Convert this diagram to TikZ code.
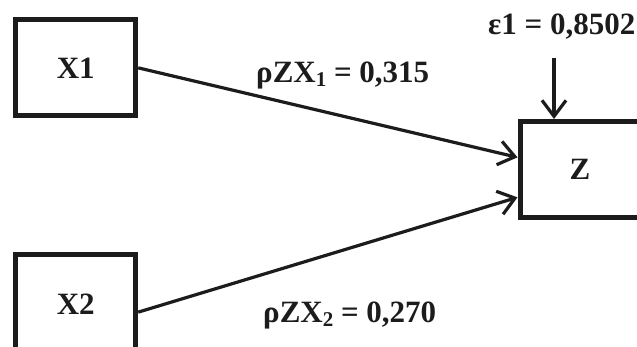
\documentclass[tikz,border=0pt]{standalone}
\usepackage{fontspec}
\setmainfont{Liberation Serif}
\usetikzlibrary{arrows.meta}
\definecolor{ink}{RGB}{28,28,28}
\tikzset{
  varbox/.style={draw=ink, line width=5pt, rectangle, minimum width=120pt, minimum height=95.7pt, inner sep=0pt, text=ink, font=\fontsize{31}{36}\selectfont\bfseries},
  path/.style={draw=ink, line width=3.2pt, -{Straight Barb[length=16pt,width=24pt,line width=3.2pt]}},
  coef/.style={anchor=base west, inner sep=0pt, text=ink, font=\fontsize{31}{36}\selectfont\bfseries}
}
\newcommand{\lowsub}[1]{\raisebox{-4pt}{\fontsize{21}{22}\selectfont #1}}
\begin{document}
\begin{tikzpicture}[x=1pt,y=-1pt]
\useasboundingbox (0,0) rectangle (637,347);
\clip (0,0) rectangle (637,347);
\fill[white] (0,0) rectangle (637,347);
\node[varbox] (X1) at (75.7,67.85) {X1};
\node[varbox] (X2) at (75.7,302.15) {};
\node[text=ink, font=\fontsize{31}{36}\selectfont\bfseries] (X2t) at (75.7,304) {X2};
\node[varbox] (Z) at (580,169.35) {Z};
\coordinate (E) at (554,58);
\draw[path] (X1.east) -- ([yshift=12pt]Z.west);
\draw[path] ([yshift=-10pt]X2.east) -- ([yshift=-28pt]Z.west);
\draw[path] (E) -- (E |- Z.north);
\node[coef] (L1) at (256,83) {ρZX\lowsub{1} = 0,315};
\node[coef] (L2) at (263,322) {ρZX\lowsub{2} = 0,270};
\node[coef] (Le) at (488,35) {ε1 = 0,8502};
\end{tikzpicture}
\end{document}
